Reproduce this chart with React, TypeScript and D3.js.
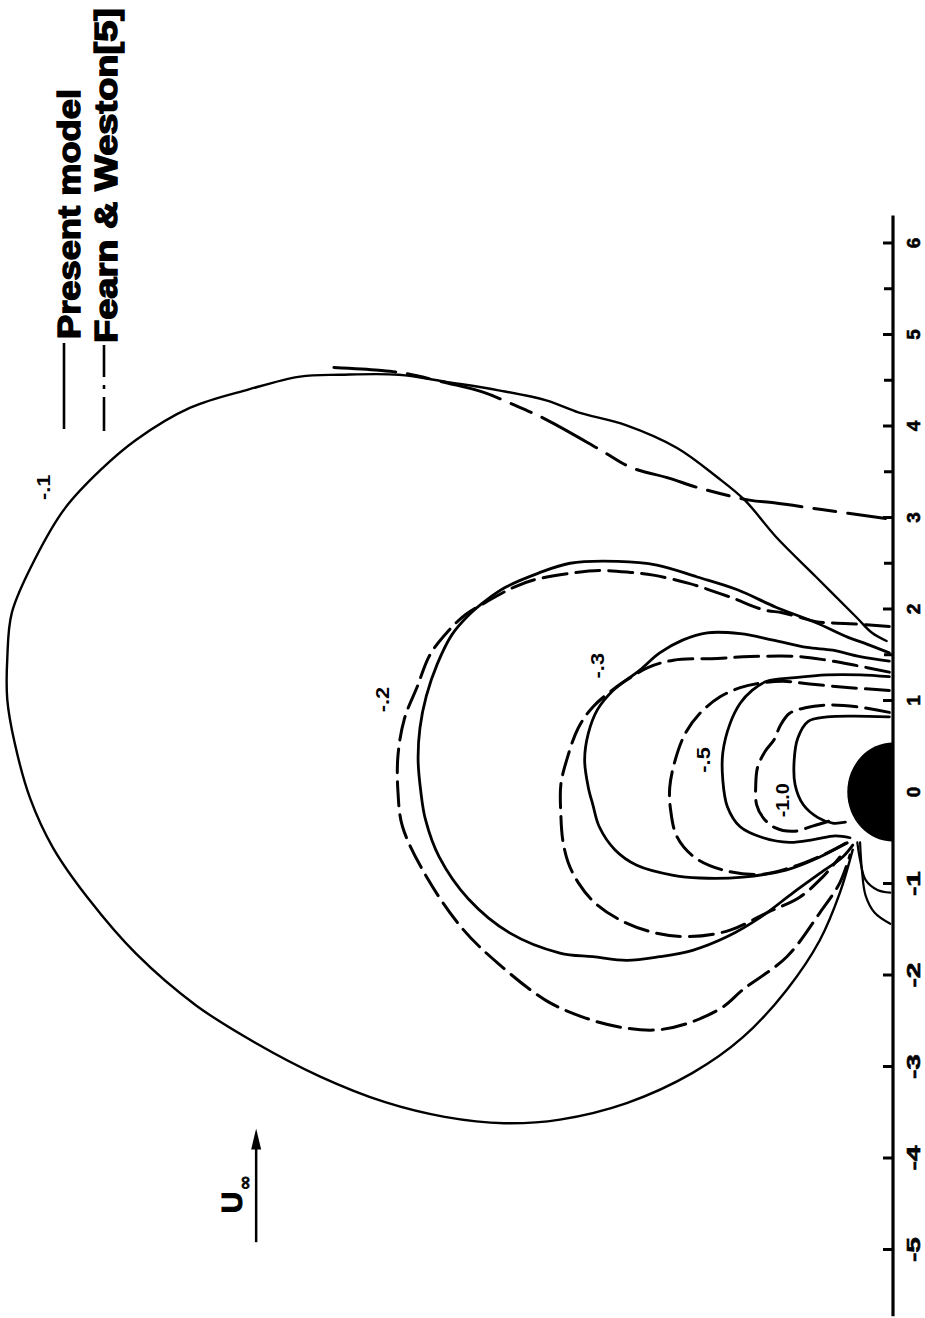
import React from 'react';
import * as d3 from 'd3';

type P = [number, number]; // [X along axis, Y off axis]

const majorTicks = [-5, -4, -3, -2, -1, 0, 1, 2, 3, 4, 5, 6];
const tickLabels = ['-5', '-4', '-3', '-2', '-1', '0', '1', '2', '3', '4', '5', '6'];
const minorTicks = [1.5, 2.5, 3.5, 4.5, 5.5];

const present01: P[] = [[1.65,0.07],[1.74,0.23],[1.91,0.40],[2.35,0.84],[2.79,1.28],[3.19,1.62],[3.44,1.92],[3.76,2.36],[4.01,2.92],[4.15,3.44],[4.28,3.79],[4.39,4.31],[4.48,4.87],[4.56,5.40],[4.56,6.04],[4.54,6.48],[4.40,7.04],[4.20,7.68],[3.85,8.27],[3.52,8.66],[3.10,9.05],[2.56,9.37],[1.96,9.63],[1.46,9.68],[1.01,9.68],[0.54,9.60],[-0.07,9.43],[-0.61,9.18],[-1.17,8.79],[-1.77,8.27],[-2.33,7.62],[-2.74,6.97],[-3.11,6.26],[-3.39,5.55],[-3.55,4.90],[-3.62,4.25],[-3.58,3.64],[-3.40,2.91],[-3.07,2.19],[-2.68,1.64],[-2.16,1.16],[-1.62,0.80],[-1.10,0.58],[-0.63,0.44]];
const fearn01: P[] = [[4.64,6.11],[4.61,5.62],[4.58,5.36],[4.47,4.87],[4.37,4.48],[4.23,4.14],[4.07,3.79],[3.74,3.20],[3.55,2.87],[3.43,2.45],[3.32,2.11],[3.19,1.57],[3.16,1.30],[3.09,0.80],[2.99,0.08]];
const present02: P[] = [[1.52,0.04],[1.63,0.32],[1.69,0.49],[1.85,0.84],[2.02,1.28],[2.21,1.70],[2.35,2.14],[2.48,2.58],[2.52,3.01],[2.50,3.53],[2.39,3.88],[2.24,4.23],[2.10,4.44],[1.94,4.63],[1.72,4.82],[1.40,4.98],[1.05,5.10],[0.70,5.17],[0.35,5.19],[0.00,5.16],[-0.30,5.11],[-0.71,4.96],[-1.17,4.64],[-1.54,4.19],[-1.76,3.64],[-1.80,3.28],[-1.84,2.91],[-1.80,2.55],[-1.73,2.19],[-1.58,1.81],[-1.37,1.45],[-1.10,1.09],[-0.89,0.80],[-0.71,0.55],[-0.58,0.44]];
const fearn02: P[] = [[1.81,0.04],[1.84,0.47],[1.86,0.84],[1.91,1.02],[1.96,1.21],[1.99,1.41],[2.13,1.78],[2.28,2.23],[2.37,2.62],[2.40,2.87],[2.42,3.20],[2.39,3.53],[2.32,3.92],[2.24,4.14],[2.08,4.44],[1.94,4.67],[1.76,4.86],[1.50,5.06],[1.15,5.20],[0.80,5.34],[0.40,5.41],[0.00,5.41],[-0.38,5.36],[-0.94,5.09],[-1.50,4.70],[-1.87,4.32],[-2.28,3.79],[-2.46,3.39],[-2.57,2.98],[-2.60,2.58],[-2.52,2.22],[-2.35,1.86],[-2.16,1.64],[-1.80,1.16],[-1.32,0.80],[-0.99,0.58],[-0.69,0.47]];
const present03: P[] = [[1.43,0.04],[1.48,0.36],[1.55,0.66],[1.58,0.94],[1.66,1.31],[1.73,1.67],[1.74,2.03],[1.66,2.30],[1.52,2.55],[1.33,2.77],[1.11,3.06],[0.90,3.23],[0.64,3.33],[0.35,3.37],[0.05,3.33],[-0.14,3.28],[-0.38,3.21],[-0.63,3.04],[-0.80,2.80],[-0.91,2.40],[-0.94,2.11],[-0.93,1.64],[-0.85,1.16],[-0.71,0.80],[-0.56,0.52]];
const fearn03: P[] = [[1.31,0.04],[1.39,0.44],[1.44,0.72],[1.48,1.02],[1.48,1.56],[1.46,1.92],[1.44,2.40],[1.36,2.68],[1.25,2.87],[1.15,3.02],[0.93,3.28],[0.70,3.44],[0.37,3.56],[0.08,3.63],[-0.25,3.63],[-0.52,3.61],[-0.77,3.55],[-0.99,3.44],[-1.21,3.26],[-1.40,2.98],[-1.54,2.60],[-1.58,2.22],[-1.51,1.78],[-1.32,1.38],[-1.15,1.02],[-0.93,0.77],[-0.71,0.58]];
const present05: P[] = [[1.26,0.04],[1.28,0.36],[1.28,0.72],[1.25,1.07],[1.21,1.38],[1.11,1.54],[0.97,1.67],[0.75,1.78],[0.43,1.86],[0.13,1.86],[-0.16,1.81],[-0.38,1.67],[-0.50,1.42],[-0.55,1.13],[-0.52,0.87],[-0.48,0.63],[-0.50,0.47]];
const fearn05: P[] = [[1.11,0.04],[1.14,0.47],[1.18,0.91],[1.21,1.20],[1.19,1.45],[1.14,1.67],[1.04,1.89],[0.86,2.11],[0.64,2.27],[0.35,2.38],[0.05,2.44],[-0.20,2.43],[-0.49,2.36],[-0.72,2.16],[-0.86,1.83],[-0.90,1.45],[-0.83,1.13],[-0.69,0.77],[-0.55,0.49]];
const fearn10: P[] = [[0.87,0.04],[0.93,0.39],[0.95,0.72],[0.92,0.96],[0.86,1.13],[0.73,1.23],[0.57,1.30],[0.44,1.40],[0.27,1.48],[0.08,1.50],[-0.14,1.49],[-0.28,1.42],[-0.39,1.29],[-0.43,1.09],[-0.37,0.87],[-0.31,0.67]];
const present10: P[] = [[0.82,0.04],[0.83,0.44],[0.82,0.72],[0.77,0.93],[0.59,1.04],[0.35,1.08],[0.08,1.07],[-0.14,0.98],[-0.28,0.82],[-0.34,0.66],[-0.33,0.52]];
const nearAxisA: P[] = [[-0.55,0.39],[-0.74,0.36],[-0.96,0.30],[-1.07,0.17],[-1.10,0.03]];
const nearAxisB: P[] = [[-0.55,0.36],[-0.85,0.34],[-1.13,0.30],[-1.32,0.20],[-1.44,0.03]];

const contourLabels = ['-.1', '-.2', '-.3', '-.5', '-1.0'];
const contourLabelX = [3.33, 1.01, 1.38, 0.35, -0.09];
const contourLabelY = [9.28, 5.57, 3.22, 2.07, 1.20];

const legendNames = ['Present model', 'Fearn & Weston[5]'];
const flowArrowX = [-4.92, -3.72];
const flowArrowY = 6.96;
const cylinderRadius = 0.5;

const DASH = '24,9';
const DASHDOT_CURVE = '62,12,22,12';
const DASHDOT_LEGEND = '34,8,4,8';

export default function App() {
  const axisX = 893;
  const sx = d3.scaleLinear().domain([0, 10]).range([axisX, axisX - 915]);
  const sy = d3.scaleLinear().domain([0, 6]).range([792, 243]);
  const line = d3
    .line<P>()
    .x((d) => sx(d[1]))
    .y((d) => sy(d[0]))
    .curve(d3.curveCatmullRom.alpha(0.5));

  const series = [
    { pts: present01, dash: undefined, w: 2.4 },
    { pts: fearn01, dash: DASHDOT_CURVE, w: 3 },
    { pts: present02, dash: undefined, w: 2.8 },
    { pts: fearn02, dash: DASH, w: 3 },
    { pts: present03, dash: undefined, w: 2.8 },
    { pts: fearn03, dash: DASH, w: 3 },
    { pts: present05, dash: undefined, w: 2.8 },
    { pts: fearn05, dash: DASH, w: 3 },
    { pts: present10, dash: undefined, w: 2.8 },
    { pts: fearn10, dash: DASH, w: 3 },
    { pts: nearAxisA, dash: undefined, w: 2.2 },
    { pts: nearAxisB, dash: undefined, w: 2.2 },
  ];

  const rx = sx(0) - sx(cylinderRadius);
  const ry = sy(0) - sy(cylinderRadius * 1.08);
  const cyl = `M${sx(0)},${sy(0) - ry} A${rx},${ry} 0 0 0 ${sx(0)},${sy(0) + ry} Z`;

  const ax = sx(flowArrowY);
  const a0 = sy(flowArrowX[0]);
  const a1 = sy(flowArrowX[1]);

  const font = "'Liberation Sans', Arial, sans-serif";

  return (
    <svg
      width={925}
      height={1318}
      style={{ position: 'absolute', left: 0, top: 0, background: '#fff' }}
    >
      <rect x={0} y={0} width={925} height={1318} fill="#fff" />
      {/* axis */}
      <line x1={axisX} x2={axisX} y1={sy(6.3)} y2={sy(-5.73)} stroke="#000" strokeWidth={3.2} />
      {majorTicks.map((t) => (
        <line key={'M' + t} x1={axisX} x2={axisX - 10} y1={sy(t)} y2={sy(t)} stroke="#000" strokeWidth={3} />
      ))}
      {minorTicks.map((t) => (
        <line key={'m' + t} x1={axisX} x2={axisX - 9} y1={sy(t)} y2={sy(t)} stroke="#000" strokeWidth={3} />
      ))}
      {majorTicks.map((t, i) => (
        <text
          key={'L' + t}
          transform={`translate(${axisX + 20},${sy(t)}) rotate(-90)`}
          textAnchor="middle"
          dominantBaseline="central"
          fontFamily={font}
          fontWeight="bold"
          fontSize={19}
          stroke="#000"
          strokeWidth={0.6}
          textLength={tickLabels[i].length > 1 ? 25 : undefined}
          lengthAdjust="spacingAndGlyphs"
        >
          {tickLabels[i]}
        </text>
      ))}

      {/* contours */}
      {series.map((s, i) => (
        <path
          key={i}
          d={line(s.pts) || ''}
          fill="none"
          stroke="#000"
          strokeWidth={s.w}
          strokeDasharray={s.dash}
          strokeLinecap="round"
          strokeLinejoin="round"
        />
      ))}

      {/* cylinder */}
      <path d={cyl} fill="#000" />

      {/* contour labels */}
      {contourLabels.map((t, i) => (
        <text
          key={'c' + i}
          transform={`translate(${sx(contourLabelY[i])},${sy(contourLabelX[i])}) rotate(-90)`}
          textAnchor="middle"
          dominantBaseline="central"
          fontFamily={font}
          fontWeight="bold"
          fontSize={18}
          textLength={t.length * 8.5}
          lengthAdjust="spacingAndGlyphs"
        >
          {t}
        </text>
      ))}

      {/* flow arrow */}
      <line x1={ax} x2={ax} y1={a0} y2={a1 + 10} stroke="#000" strokeWidth={2.5} />
      <path d={`M${ax},${a1 - 4} L${ax - 5},${a1 + 17} L${ax + 5},${a1 + 17} Z`} fill="#000" />
      <text
        transform={`translate(${ax - 14},${a0 - 29}) rotate(-90)`}
        fontFamily={font}
        fontWeight="bold"
        fontSize={30}
        stroke="#000"
        strokeWidth={1}
      >
        U
      </text>
      <text
        transform={`translate(${ax - 5},${a0 - 52}) rotate(-90)`}
        fontFamily="'DejaVu Sans', sans-serif"
        fontWeight="bold"
        fontSize={18}
        stroke="#000"
        strokeWidth={0.6}
      >
        ∞
      </text>

      {/* legend */}
      <line x1={64} x2={64} y1={429} y2={343} stroke="#000" strokeWidth={2.6} />
      <line x1={104} x2={104} y1={431} y2={345} stroke="#000" strokeWidth={2.6} strokeDasharray={DASHDOT_LEGEND} />
      <text
        transform="translate(80,339) rotate(-90)"
        fontFamily={font}
        fontWeight="bold"
        fontSize={31}
        stroke="#000"
        strokeWidth={1.4}
        textLength={250}
        lengthAdjust="spacingAndGlyphs"
      >
        {legendNames[0]}
      </text>
      <text
        transform="translate(117,343) rotate(-90)"
        fontFamily={font}
        fontWeight="bold"
        fontSize={31}
        stroke="#000"
        strokeWidth={1.4}
        textLength={335}
        lengthAdjust="spacingAndGlyphs"
      >
        {legendNames[1]}
      </text>
    </svg>
  );
}
